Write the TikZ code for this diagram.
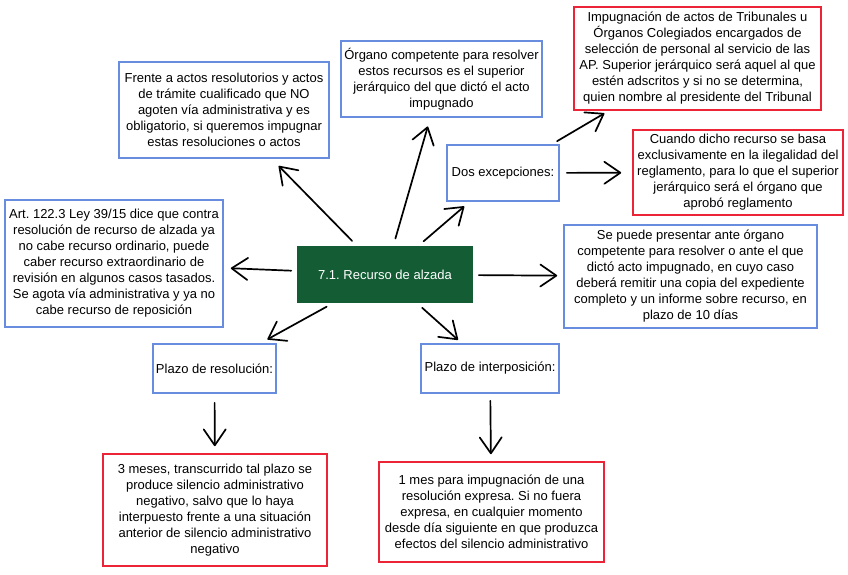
\documentclass[tikz,border=0pt]{standalone}
\usepackage{fontspec}
\setmainfont{Liberation Sans}
\usetikzlibrary{arrows.meta}
\definecolor{boxblue}{RGB}{104,140,222}
\definecolor{boxred}{RGB}{236,36,56}
\definecolor{alzadagreen}{RGB}{19,92,52}
\tikzset{
  notebox/.style={
    draw,
    line width=1.6pt,
    fill=white,
    align=center,
    inner sep=2pt,
    font=\fontsize{13}{16}\selectfont\frenchspacing
  },
  bluebox/.style={notebox,draw=boxblue},
  redbox/.style={notebox,draw=boxred},
  rootbox/.style={notebox,draw=none,fill=alzadagreen,text=white},
  link/.style={
    line width=1.7pt,
    line cap=round,
    -{Straight Barb[length=16pt,width=22pt,round]}
  }
}

\begin{document}
\begin{tikzpicture}[x=1pt,y=-1pt]
  \useasboundingbox (0,0) rectangle (848,574);

  \node[rootbox,minimum width=176,minimum height=57] (root) at (385,274.5)
    {7.1. Recurso de alzada};

  \node[bluebox,minimum width=210,minimum height=96] (frente) at (224,110)
    {Frente a actos resolutorios y actos\\de trámite cualificado que NO\\agoten vía administrativa y es\\obligatorio, si queremos impugnar\\estas resoluciones o actos};
  \node[bluebox,minimum width=201,minimum height=76] (organo) at (441.5,79)
    {Órgano competente para resolver\\estos recursos es el superior\\jerárquico del que dictó el acto\\impugnado};
  \node[bluebox,minimum width=112,minimum height=56] (dos) at (503,173)
    {Dos excepciones:};
  \node[redbox,minimum width=247,minimum height=103] (impug) at (697.5,58.5)
    {Impugnación de actos de Tribunales u\\Órganos Colegiados encargados de\\selección de personal al servicio de las\\AP. Superior jerárquico será aquel al que\\estén adscritos y si no se determina,\\quien nombre al presidente del Tribunal};
  \node[redbox,minimum width=210,minimum height=85] (cuando) at (738,172.5)
    {Cuando dicho recurso se basa\\exclusivamente en la ilegalidad del\\reglamento, para lo que el superior\\jerárquico será el órgano que\\aprobó reglamento};
  \node[bluebox,minimum width=218,minimum height=127] (art) at (114,263.5)
    {Art. 122.3 Ley 39/15 dice que contra\\resolución de recurso de alzada ya\\no cabe recurso ordinario, puede\\caber recurso extraordinario de\\revisión en algunos casos tasados.\\Se agota vía administrativa y ya no\\cabe recurso de reposición};
  \node[bluebox,minimum width=253,minimum height=103] (sepuede) at (690.5,276.5)
    {Se puede presentar ante órgano\\competente para resolver o ante el que\\dictó acto impugnado, en cuyo caso\\deberá remitir una copia del expediente\\completo y un informe sobre recurso, en\\plazo de 10 días};
  \node[bluebox,minimum width=123,minimum height=49] (plazores) at (214.5,368.5)
    {Plazo de resolución:};
  \node[bluebox,minimum width=138,minimum height=49] (plazoint) at (490,368.5)
    {Plazo de interposición:};
  \node[redbox,minimum width=224,minimum height=112] (tresmeses) at (215,510)
    {3 meses, transcurrido tal plazo se\\produce silencio administrativo\\negativo, salvo que lo haya\\interpuesto frente a una situación\\anterior de silencio administrativo\\negativo};
  \node[redbox,minimum width=225,minimum height=100] (unmes) at (491.5,512)
    {1 mes para impugnación de una\\resolución expresa. Si no fuera\\expresa, en cualquier momento\\desde día siguiente en que produzca\\efectos del silencio administrativo};

  \draw[link,shorten <=6pt,shorten >=10pt] (root) -- (frente);
  \draw[link,shorten <=7pt,shorten >=9pt] (root) -- (organo);
  \draw[link,shorten <=6pt,shorten >=7pt] (root) -- (dos);
  \draw[link,shorten <=6pt,shorten >=5pt] (dos) -- (impug);
  \draw[link,shorten <=7pt,shorten >=11pt] (dos) -- (cuando);
  \draw[link,shorten <=5pt,shorten >=7pt] (root) -- (art);
  \draw[link,shorten <=5pt,shorten >=6pt] (root) -- (sepuede);
  \draw[link,shorten <=6pt,shorten >=8pt] (root) -- (plazores);
  \draw[link,shorten <=6pt,shorten >=5pt] (root) -- (plazoint);
  \draw[link,shorten <=9pt,shorten >=7pt] (plazores) -- (tresmeses);
  \draw[link,shorten <=7pt,shorten >=7pt] (plazoint) -- (unmes);
\end{tikzpicture}
\end{document}
